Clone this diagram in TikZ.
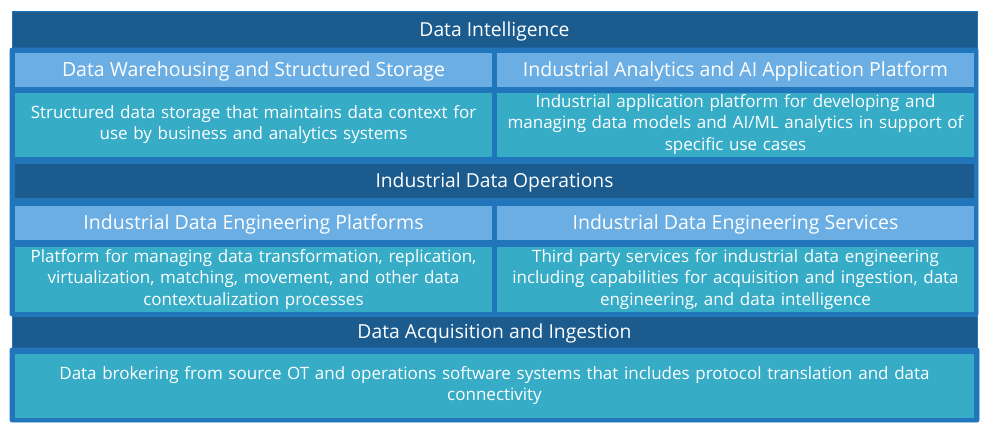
\documentclass[tikz,border=0pt]{standalone}
\usepackage{fontspec}
\setmainfont{Open Sans}
\definecolor{navy}{HTML}{1B5B8E}
\definecolor{midblue}{HTML}{2175BB}
\definecolor{lightblue}{HTML}{6BAEE3}
\definecolor{teal}{HTML}{36ACC7}
\begin{document}
\begin{tikzpicture}[x=1pt,y=-1pt,
  band/.style={fill=navy, draw=midblue, line width=0.8pt, inner sep=0pt, text=white, font=\fontsize{19.3}{22}\selectfont, text height=13.8pt, text depth=0pt},
  frame/.style={fill=midblue, draw=midblue, line width=0.8pt, rounded corners=2pt},
  hdr/.style={fill=lightblue, inner sep=0pt, text=white, font=\fontsize{19.5}{22}\selectfont, text height=13.9pt, text depth=0pt},
  desc/.style={fill=teal, inner sep=0pt, text=white, align=center, font=\fontsize{17}{21.5}\selectfont}]
\useasboundingbox (0,0) rectangle (987,428);
\fill[white] (0,0) rectangle (987,428);
% top band
\node[band, minimum width=965pt, minimum height=37pt] (di) at (494.5,29.5) {Data Intelligence};
% main frame
\draw[frame] (10,48) rectangle (978,316);
\node[hdr, minimum width=477pt, minimum height=34pt] (dws) at (253.5,70) {Data Warehousing and Structured Storage};
\node[hdr, minimum width=477pt, minimum height=34pt] (iaa) at (735.5,70) {Industrial Analytics and AI Application Platform};
\node[desc, minimum width=477pt, minimum height=64pt, text width=474pt] (dwsd) at (253.5,124.5) {Structured data storage that maintains data context for\\use by business and analytics systems};
\node[desc, minimum width=477pt, minimum height=64pt, text width=474pt] (iaad) at (735.5,124.5) {Industrial application platform for developing and\\managing data models and AI/ML analytics in support of\\specific use cases};
\node[band, minimum width=959pt, minimum height=34pt, draw=none] (ido) at (494.5,181) {Industrial Data Operations};
\node[hdr, minimum width=477pt, minimum height=34pt] (idep) at (253.5,223) {Industrial Data Engineering Platforms};
\node[hdr, minimum width=477pt, minimum height=34pt] (ides) at (735.5,223) {Industrial Data Engineering Services};
\node[desc, minimum width=477pt, minimum height=65pt, text width=474pt] (idepd) at (253.5,279.5) {Platform for managing data transformation, replication,\\virtualization, matching, movement, and other data\\contextualization processes};
\node[desc, minimum width=477pt, minimum height=65pt, text width=474pt] (idesd) at (735.5,279.5) {Third party services for industrial data engineering\\including capabilities for acquisition and ingestion, data\\engineering, and data intelligence};
% bottom
\node[band, minimum width=965pt, minimum height=32pt] (dai) at (494.5,332) {Data Acquisition and Ingestion};
\draw[frame] (10,348) rectangle (979,422);
\node[desc, minimum width=959pt, minimum height=64pt, text width=955pt] (daid) at (494.5,385.5) {Data brokering from source OT and operations software systems that includes protocol translation and data\\connectivity};
\end{tikzpicture}
\end{document}
